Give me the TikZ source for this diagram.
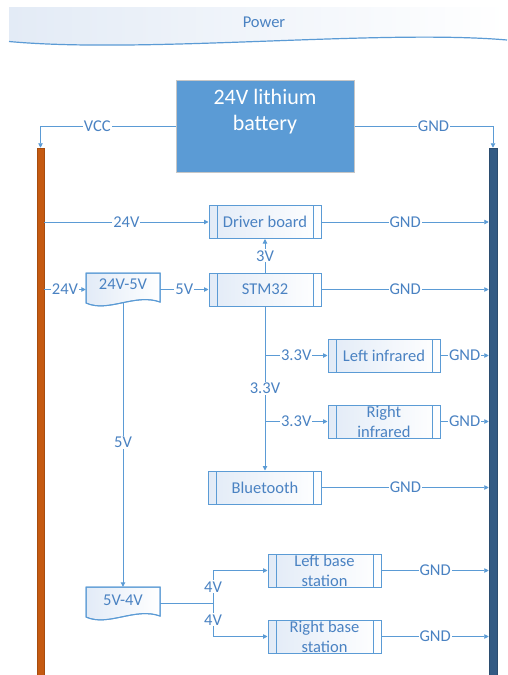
\documentclass[tikz,border=0pt]{standalone}
\usepackage{fontspec}
\setmainfont{Carlito}
\usetikzlibrary{arrows.meta,calc}
\definecolor{lc}{HTML}{5B9BD5}
\definecolor{tc}{HTML}{4A82C2}
\definecolor{fillb}{HTML}{E2EBF7}
\definecolor{bannerb}{HTML}{E3EBF6}
\definecolor{orng}{HTML}{C55A11}
\definecolor{navy}{HTML}{335B84}
\definecolor{batfill}{HTML}{5B9BD5}
\begin{document}
\begin{tikzpicture}[x=1pt,y=-1pt,
  conn/.style={draw=lc, line width=0.9pt, -{Triangle[length=4.5pt,width=4.5pt]}},
  plain/.style={draw=lc, line width=0.9pt},
  lbl/.style={fill=white, text=tc, font=\fontsize{16.5}{19}\selectfont, inner sep=1pt},
  proc/.style={draw=lc, line width=1pt, left color=fillb, right color=white,
    minimum width=112pt, minimum height=33pt, text=tc,
    font=\fontsize{16.5}{20}\selectfont, align=center, inner sep=0pt,
    path picture={
      \draw[lc, line width=1pt] ([xshift=8pt]path picture bounding box.north west) -- ([xshift=8pt]path picture bounding box.south west);
      \draw[lc, line width=1pt] ([xshift=-8pt]path picture bounding box.north east) -- ([xshift=-8pt]path picture bounding box.south east);}},
  docanchor/.style={draw=none, minimum width=74pt, inner sep=0pt},
  doctext/.style={text=tc, font=\fontsize{16.5}{19}\selectfont, inner sep=0pt},
  docshape/.style={draw=lc, line width=1pt, left color=fillb, right color=white},
]
\useasboundingbox (0,0) rectangle (507,675);
\fill[white] (0,0) rectangle (507,675);

% banner
\shade[left color=bannerb, right color=white] (9,7) -- (507,7) -- (507,40)
  .. controls (380,29) and (145,54) .. (9,41.5) -- cycle;
\draw[lc, line width=1.2pt] (507,40) .. controls (380,29) and (145,54) .. (9,41.5);
\node[text=tc, font=\fontsize{16.5}{18}\selectfont] (title) at (264,22) {Power};

% battery
\node[draw=gray!45, line width=1pt, fill=batfill, minimum width=178pt, minimum height=92pt] (bat) at (265,126) {};
\node[text=white, font=\fontsize{22}{26}\selectfont, align=center] (battxt) at (265,112) {24V lithium\\battery};

% rails
\node[draw=orng!85!black, line width=0.5pt, fill=orng, minimum width=7pt, minimum height=527pt, inner sep=0pt] (railL) at (40.5,411.5) {};
\node[draw=navy!85!black, line width=0.5pt, fill=navy, minimum width=8pt, minimum height=527pt, inner sep=0pt] (railR) at (493,411.5) {};

% process boxes
\node[proc] (db) at (265,222) {Driver board};
\node[proc] (stm) at (265,289.5) {STM32};
\node[proc] (li) at (384,355.5) {Left infrared};
\node[proc] (ri) at (384,421.5) {Right\\infrared};
\node[proc, minimum width=113pt] (bt) at (265,487.5) {Bluetooth};
\node[proc, minimum width=113pt] (lb) at (324.5,570.5) {Left base\\station};
\node[proc, minimum width=113pt] (rb) at (324.5,636.5) {Right base\\station};

% document shapes
\shade[docshape] (86,273) -- (160,273) -- (160,302) .. controls (135,293) and (108,313) .. (86,303) -- cycle;
\draw[lc, line width=1pt] (86,273) -- (160,273) -- (160,302) .. controls (135,293) and (108,313) .. (86,303) -- cycle;
\node[docanchor, minimum height=33pt] (d1) at (123,289.5) {};
\node[doctext] (d1t) at (123,284.5) {24V-5V};

\shade[docshape] (86,587) -- (160,587) -- (160,616) .. controls (135,607) and (108,627) .. (86,617) -- cycle;
\draw[lc, line width=1pt] (86,587) -- (160,587) -- (160,616) .. controls (135,607) and (108,627) .. (86,617) -- cycle;
\node[docanchor, minimum height=32pt] (d2) at (123,603) {};
\node[doctext] (d2t) at (123,600) {5V-4V};

% battery connections
\draw[conn] (bat.west) -| node[pos=0.29,lbl]{VCC} (railL.north);
\draw[conn] (bat.east) -| node[pos=0.285,lbl]{GND} (railR.north);

% driver board
\draw[conn] (railL.east |- db.west) -- node[lbl]{24V} (db.west);
\draw[conn] (db.east) -- node[lbl]{GND} (db.east -| railR.west);
\draw[conn] (stm.north) -- node[lbl]{3V} (db.south);

% STM32 row
\draw[conn] (railL.east |- stm.west) -- node[lbl]{24V} (d1.west |- stm.west);
\draw[conn] (d1.east |- stm.west) -- node[lbl]{5V} (stm.west);
\draw[conn] (stm.east) -- node[lbl]{GND} (stm.east -| railR.west);

% 3.3V bus
\draw[conn] (stm.south) -- node[lbl, pos=0.5]{3.3V} (bt.north);
\draw[conn] (stm.south |- li.west) -- node[lbl]{3.3V} (li.west);
\draw[conn] (stm.south |- ri.west) -- node[lbl]{3.3V} (ri.west);
\draw[conn] (li.east) -- node[lbl]{GND} (li.east -| railR.west);
\draw[conn] (ri.east) -- node[lbl]{GND} (ri.east -| railR.west);
\draw[conn] (bt.east) -- node[lbl]{GND} (bt.east -| railR.west);

% 5V to second converter
\draw[conn] ([yshift=3pt]d1.south) -- node[lbl, pos=0.49]{5V} (d2.north);

% 4V branch
\coordinate (jn) at (213,603);
\draw[plain] (d2.east) -- (jn);
\draw[conn] (jn) |- node[lbl, pos=0.25]{4V} (lb.west);
\draw[conn] (jn) |- node[lbl, pos=0.25]{4V} (rb.west);
\draw[conn] (lb.east) -- node[lbl]{GND} (lb.east -| railR.west);
\draw[conn] (rb.east) -- node[lbl]{GND} (rb.east -| railR.west);
\end{tikzpicture}
\end{document}
